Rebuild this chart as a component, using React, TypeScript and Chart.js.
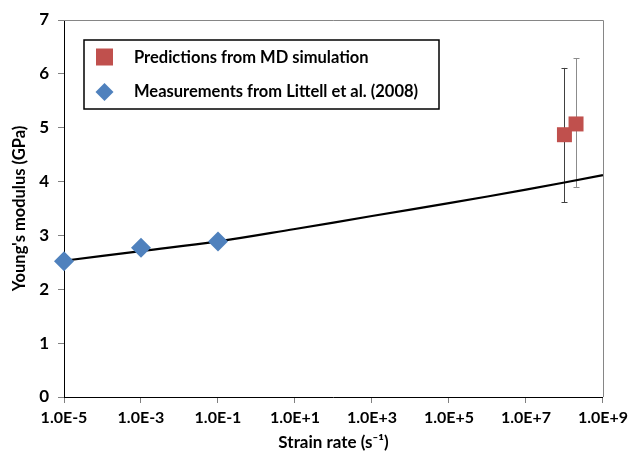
import React, { useEffect, useRef } from 'react';
import { Chart, registerables } from 'chart.js';

Chart.register(...registerables);

const FONT = 'Lato, "Open Sans", sans-serif';

// Axis ticks
const xTickValues = [1e-5, 1e-3, 1e-1, 1e1, 1e3, 1e5, 1e7, 1e9];
const xTickLabels = ['1.0E-5', '1.0E-3', '1.0E-1', '1.0E+1', '1.0E+3', '1.0E+5', '1.0E+7', '1.0E+9'];
const yTickValues = [0, 1, 2, 3, 4, 5, 6, 7];

// MD simulation predictions
const mdRates = [1e8, 2e8];
const mdModulus = [4.87, 5.07];
const mdErrLow = [3.62, 3.89];
const mdErrHigh = [6.11, 6.29];
const mdErrColors = ['#404040', '#8c8c8c'];

// Littell et al. (2008) measurements
const expRates = [1e-5, 1e-3, 1e-1];
const expModulus = [2.52, 2.77, 2.886];

// Fitted curve
const fitRates = [1e-5, 1e-3, 1e-1, 1e1, 1e3, 1e5, 1e7, 1e9];
const fitModulus = [2.53, 2.71, 2.89, 3.12, 3.36, 3.6, 3.85, 4.12];

const legendLabels = ['Predictions from MD simulation', 'Measurements from Littell et al. (2008)'];

const RED = '#C0504D';
const BLUE = '#4F81BD';

const errorBarPlugin = {
  id: 'errorBars',
  beforeDatasetsDraw(chart: any) {
    const { ctx, scales } = chart;
    const xs = scales.x;
    const ys = scales.y;
    ctx.save();
    mdRates.forEach((r, i) => {
      const x = xs.getPixelForValue(r);
      const yl = ys.getPixelForValue(mdErrLow[i]);
      const yh = ys.getPixelForValue(mdErrHigh[i]);
      ctx.strokeStyle = mdErrColors[i];
      ctx.lineWidth = 1;
      ctx.beginPath();
      ctx.moveTo(Math.round(x) + 0.5, yl);
      ctx.lineTo(Math.round(x) + 0.5, yh);
      ctx.moveTo(Math.round(x) - 2.5, Math.round(yl) + 0.5);
      ctx.lineTo(Math.round(x) + 3.5, Math.round(yl) + 0.5);
      ctx.moveTo(Math.round(x) - 2.5, Math.round(yh) + 0.5);
      ctx.lineTo(Math.round(x) + 3.5, Math.round(yh) + 0.5);
      ctx.stroke();
    });
    ctx.restore();
  },
};

const frameLegendPlugin = {
  id: 'frameLegend',
  afterDraw(chart: any) {
    const { ctx, chartArea } = chart;
    const { left, right, top, bottom } = chartArea;
    ctx.save();
    // grey top/right frame
    ctx.strokeStyle = '#868686';
    ctx.lineWidth = 1;
    ctx.beginPath();
    ctx.moveTo(left, Math.round(top) + 0.5);
    ctx.lineTo(Math.round(right) + 0.5, Math.round(top) + 0.5);
    ctx.lineTo(Math.round(right) + 0.5, bottom);
    ctx.stroke();

    // legend box
    const bx = left + 20;
    const by = top + 20;
    const bw = 355;
    const bh = 69;
    ctx.fillStyle = '#ffffff';
    ctx.fillRect(bx, by, bw, bh);
    ctx.strokeStyle = '#000000';
    ctx.lineWidth = 1.5;
    ctx.strokeRect(bx, by, bw, bh);

    const mx = bx + 20.5;
    const row1 = by + 17;
    const row2 = by + 52;
    // red square
    ctx.fillStyle = RED;
    ctx.fillRect(mx - 8.5, row1 - 8.5, 17, 17);
    // blue diamond
    ctx.fillStyle = BLUE;
    ctx.beginPath();
    ctx.moveTo(mx, row2 - 9);
    ctx.lineTo(mx + 9, row2);
    ctx.lineTo(mx, row2 + 9);
    ctx.lineTo(mx - 9, row2);
    ctx.closePath();
    ctx.fill();

    ctx.fillStyle = '#000000';
    ctx.font = `bold 16.5px ${FONT}`;
    ctx.textAlign = 'left';
    ctx.textBaseline = 'middle';
    ctx.fillText(legendLabels[0], bx + 50, row1 + 1);
    ctx.fillText(legendLabels[1], bx + 50, row2);
    ctx.restore();
  },
};

export default function App() {
  const ref = useRef<HTMLCanvasElement>(null);

  useEffect(() => {
    if (!ref.current) return;
    const chart = new Chart(ref.current, {
      type: 'scatter',
      data: {
        datasets: [
          {
            label: legendLabels[0],
            data: mdRates.map((r, i) => ({ x: r, y: mdModulus[i] })),
            pointStyle: 'rect',
            pointRadius: 10.6,
            pointHoverRadius: 10.6,
            backgroundColor: RED,
            borderColor: RED,
            borderWidth: 0,
            clip: false,
          } as any,
          {
            label: legendLabels[1],
            data: expRates.map((r, i) => ({ x: r, y: expModulus[i] })),
            pointStyle: 'rectRot',
            pointRadius: 10,
            pointHoverRadius: 10,
            backgroundColor: BLUE,
            borderColor: BLUE,
            borderWidth: 0,
            clip: false,
          } as any,
          {
            label: 'fit',
            data: fitRates.map((r, i) => ({ x: r, y: fitModulus[i] })),
            showLine: true,
            pointRadius: 0,
            pointHoverRadius: 0,
            borderColor: '#000000',
            borderWidth: 2.2,
            tension: 0.4,
            clip: false,
          } as any,
        ],
      },
      options: {
        animation: false,
        responsive: true,
        maintainAspectRatio: false,
        events: [],
        layout: { padding: { top: 20, right: 28, left: 0, bottom: 0 } },
        plugins: {
          legend: { display: false },
          tooltip: { enabled: false },
        },
        scales: {
          x: {
            type: 'logarithmic',
            min: 1e-5,
            max: 1e9,
            afterBuildTicks: (scale: any) => {
              scale.ticks = xTickValues.map((v) => ({ value: v }));
            },
            afterFit: (scale: any) => {
              scale.height = 58;
            },
            ticks: {
              autoSkip: false,
              maxRotation: 0,
              padding: 5,
              color: '#000',
              font: { family: FONT, size: 16, weight: 'bold' },
              callback: (_v: any, i: number) => xTickLabels[i],
            },
            grid: {
              display: true,
              drawOnChartArea: false,
              drawTicks: true,
              tickLength: 6,
              color: '#808080',
            },
            border: { display: true, color: '#000', width: 1 },
            title: {
              display: true,
              text: 'Strain rate (s\u207B\u00B9)',
              color: '#000',
              font: { family: FONT, size: 17, weight: 'bold' },
              padding: { top: 0, bottom: 2 },
            },
          },
          y: {
            type: 'linear',
            min: 0,
            max: 7,
            afterBuildTicks: (scale: any) => {
              scale.ticks = yTickValues.map((v) => ({ value: v }));
            },
            afterFit: (scale: any) => {
              scale.width = 64;
            },
            ticks: {
              padding: 9,
              color: '#000',
              font: { family: FONT, size: 17, weight: 'bold' },
              callback: (v: any) => String(v),
            },
            grid: {
              display: true,
              drawOnChartArea: false,
              drawTicks: true,
              tickLength: 6,
              color: '#808080',
            },
            border: { display: true, color: '#000', width: 1 },
            title: {
              display: true,
              text: "Young's modulus (GPa)",
              color: '#000',
              font: { family: FONT, size: 16.5, weight: 'bold' },
              padding: { top: 10, bottom: 0 },
            },
          },
        },
      },
      plugins: [errorBarPlugin, frameLegendPlugin],
    } as any);
    return () => chart.destroy();
  }, []);

  return (
    <div style={{ position: 'fixed', left: 0, top: 0, width: 633, height: 455, background: '#fff' }}>
      <canvas ref={ref} />
    </div>
  );
}
